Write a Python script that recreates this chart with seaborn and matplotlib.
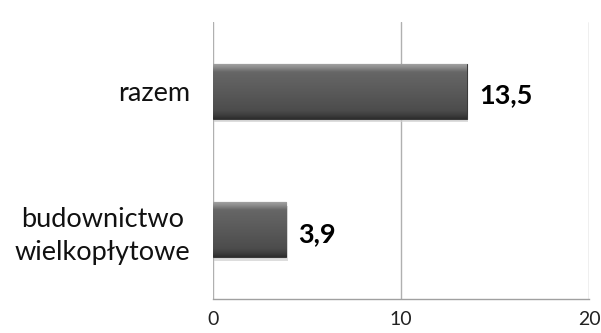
import matplotlib
matplotlib.use("Agg")
import matplotlib.pyplot as plt
import numpy as np
import pandas as pd
import seaborn as sns
from matplotlib.colors import LinearSegmentedColormap
from matplotlib.patches import FancyBboxPatch

categories = ["razem", "budownictwo\nwielkopłytowe"]
values = [13.5, 3.9]
value_labels = ["13,5", "3,9"]
x_ticks = [0, 10, 20]

sns.set_theme(style="white")
plt.rcParams["font.family"] = ["Lato", "DejaVu Sans"]

df = pd.DataFrame({"kategoria": categories, "wartosc": values})

fig = plt.figure(figsize=(6.01, 3.33), dpi=100)
ax = fig.add_axes([0.354, 0.102, 0.626, 0.832])

sns.barplot(data=df, x="wartosc", y="kategoria", orient="h", width=0.4,
            color="#5a5a5a", ax=ax, zorder=3)

# beveled look: vertical gradient clipped to each bar, plus soft shadow
bevel = LinearSegmentedColormap.from_list(
    "bevel",
    [(0.0, "#a8a8a8"), (0.08, "#8a8a8a"), (0.16, "#666666"),
     (0.5, "#5a5a5a"), (0.85, "#4c4c4c"), (0.94, "#3c3c3c"), (1.0, "#2c2c2c")])
grad = np.linspace(0, 1, 256).reshape(-1, 1)
for patch in ax.patches:
    x0, y0 = patch.get_x(), patch.get_y()
    w, h = patch.get_width(), patch.get_height()
    shadow = FancyBboxPatch((x0 + 0.08, y0 + 0.025), w, h,
                            boxstyle="square,pad=0", facecolor="#cfcfcf",
                            edgecolor="none", alpha=0.7, zorder=2)
    ax.add_patch(shadow)
    im = ax.imshow(grad, extent=(x0, x0 + w, y0 + h, y0), cmap=bevel,
                   aspect="auto", zorder=4, interpolation="bicubic")
    im.set_clip_path(patch)
    patch.set_edgecolor("#3a3a3a")
    patch.set_linewidth(0.8)

for i, (v, lab) in enumerate(zip(values, value_labels)):
    ax.text(v + 0.65, i + 0.03, lab, va="center", ha="left", fontsize=19.5,
            fontweight="bold", color="#000000")

ax.set_xlim(0, 20)
ax.set_ylim(1.5, -0.5)
ax.set_xticks(x_ticks)
ax.set_xticklabels([str(t) for t in x_ticks], fontsize=14, color="#222222")
ax.set_yticks(range(len(categories)))
ax.set_yticklabels(categories, fontsize=19.5, color="#111111",
                   ha="right", multialignment="center", linespacing=1.4)
ax.tick_params(axis="y", length=0, pad=16)
ax.tick_params(axis="x", length=3.5, width=1, color="#a0a0a0", direction="out",
               pad=5)
ax.set_xlabel("")
ax.set_ylabel("")

ax.grid(axis="x", color="#b0b0b0", linewidth=1, zorder=0)
ax.set_axisbelow(True)
for side in ["top", "right", "left"]:
    ax.spines[side].set_visible(False)
ax.spines["bottom"].set_color("#a0a0a0")
ax.spines["bottom"].set_linewidth(1)

fig.savefig("out.png", dpi=100)
